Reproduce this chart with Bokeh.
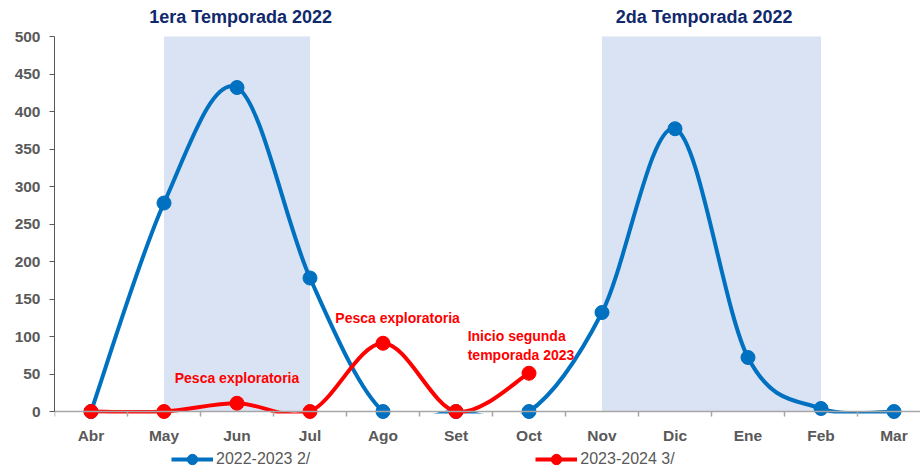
import numpy as np
from bokeh.plotting import figure
from bokeh.models import FixedTicker, Legend, LegendItem, Range1d
from bokeh.core.properties import value
from bokeh.embed import file_html
from bokeh.resources import INLINE

# ---------------- data ----------------
months = ["Abr", "May", "Jun", "Jul", "Ago", "Set", "Oct", "Nov", "Dic", "Ene", "Feb", "Mar"]
blue_vals = [0, 278, 432, 178, 0, 0, 0, 132, 377, 72, 4, 0]      # 2022-2023 2/
red_vals = [0, 0, 11, 0, 91, 0, 51]                                # 2023-2024 3/
series_names = ["2022-2023 2/", "2023-2024 3/"]
y_ticks = [0, 50, 100, 150, 200, 250, 300, 350, 400, 450, 500]
season_start = [1, 7]          # May, Nov (month index)
season_end = [3, 10]           # Jul, Feb
season_top = [500, 500]
season_titles = ["1era Temporada 2022", "2da Temporada 2022"]
notes = ["Pesca exploratoria", "Pesca exploratoria", "Inicio segunda\ntemporada 2023"]

# ---------------- positions / styles ----------------
title_x = [2.05, 8.4]
title_y = 526.5
note_x = [2.0, 4.2]
note_y = [45, 125]
note3_x, note3_y = 5.16, 88
clip_margin = 2.7   # plot-area clipping just below the zero line (data units)

BLUE = "#0070C0"
RED = "#FF0000"
SHADE = "#DAE3F3"
GREY = "#595959"
NAVY = "#10296B"
FONT = "Liberation Sans"

W, H = 920, 471
X0, X1 = -0.5, -0.5 + (W - 54) / 73.0
Y0, Y1 = -(H - 411) / 0.75, 500 + 36 / 0.75

p = figure(width=W, height=H, output_backend="svg", toolbar_location=None,
           x_range=Range1d(X0, X1), y_range=Range1d(Y0, Y1),
           min_border_left=54, min_border_right=0, min_border_top=0, min_border_bottom=0)
p.outline_line_color = None
p.xgrid.visible = False
p.ygrid.visible = False
p.background_fill_color = "white"

# shaded seasons
p.quad(left=season_start, right=season_end, bottom=[0, 0], top=season_top,
       fill_color=SHADE, line_color=None)


def smooth(vals):
    y = np.asarray(vals, dtype=float)
    x = np.arange(len(y), dtype=float)
    n = len(y)
    xp = np.concatenate([[x[0]], x, [x[-1]]])
    yp = np.concatenate([[y[0]], y, [y[-1]]])
    x0, x1, y0, y1 = x[:-1], x[1:], y[:-1], y[1:]
    cx0 = x0 + (xp[2:n + 1] - xp[0:n - 1]) / 6.0
    cy0 = y0 + (yp[2:n + 1] - yp[0:n - 1]) / 6.0
    cx1 = x1 - (xp[3:n + 2] - xp[1:n]) / 6.0
    cy1 = y1 - (yp[3:n + 2] - yp[1:n]) / 6.0
    return dict(x0=x0, y0=y0, x1=x1, y1=y1, cx0=cx0, cy0=cy0, cx1=cx1, cy1=cy1)


bb = smooth(blue_vals)
blue_curve = p.bezier(x0=bb["x0"], y0=bb["y0"], x1=bb["x1"], y1=bb["y1"],
                      cx0=bb["cx0"], cy0=bb["cy0"], cx1=bb["cx1"], cy1=bb["cy1"],
                      line_color=BLUE, line_width=4)
rb = smooth(red_vals)
red_curve = p.bezier(x0=rb["x0"], y0=rb["y0"], x1=rb["x1"], y1=rb["y1"],
                     cx0=rb["cx0"], cy0=rb["cy0"], cx1=rb["cx1"], cy1=rb["cy1"],
                     line_color=RED, line_width=4)

# plot-area clipping of the curves below the zero line (as in the source chart)
p.quad(left=[X0], right=[X1], bottom=[Y0], top=[-clip_margin],
       fill_color="white", line_color=None)

blue_pts = p.scatter(x=list(range(len(blue_vals))), y=blue_vals, size=14,
                     fill_color=BLUE, line_color=BLUE)
red_pts = p.scatter(x=list(range(len(red_vals))), y=red_vals, size=14,
                    fill_color=RED, line_color=RED)

# annotations
p.text(x=note_x, y=note_y, text=notes[:2], text_color=RED, text_font=value(FONT),
       text_font_size="14px", text_font_style="bold", text_align="center",
       text_baseline="middle")
p.text(x=[note3_x], y=[note3_y], text=[notes[2]], text_color=RED, text_font=value(FONT),
       text_font_size="14px", text_font_style="bold", text_align="left",
       text_baseline="middle", text_line_height=1.14)
p.text(x=title_x, y=[title_y, title_y], text=season_titles, text_color=NAVY,
       text_font=value(FONT), text_font_size="18px", text_font_style="bold",
       text_align="center", text_baseline="middle")

# axes
yax = p.yaxis[0]
yax.bounds = (y_ticks[0], y_ticks[-1])
yax.ticker = FixedTicker(ticks=y_ticks)
yax.major_label_text_font = FONT
yax.major_label_text_font_size = "15.5px"
yax.major_label_text_font_style = "bold"
yax.major_label_text_color = GREY
yax.major_tick_out = 5
yax.major_tick_in = 0
yax.minor_tick_line_color = None
yax.axis_line_color = GREY
yax.major_tick_line_color = GREY
yax.major_label_standoff = 9

xax = p.xaxis[0]
xax.fixed_location = 0
xax.bounds = (-0.5, len(months) - 0.5)
xax.ticker = FixedTicker(ticks=list(range(len(months))),
                         minor_ticks=[i - 0.5 for i in range(len(months) + 1)])
xax.major_label_overrides = {i: m for i, m in enumerate(months)}
xax.major_label_text_font = FONT
xax.major_label_text_font_size = "15.5px"
xax.major_label_text_font_style = "bold"
xax.major_label_text_color = GREY
xax.major_tick_out = 0
xax.major_tick_in = 0
xax.minor_tick_out = 5
xax.minor_tick_in = 0
xax.minor_tick_line_color = "#A6A6A6"
xax.minor_tick_line_width = 1.5
xax.axis_line_color = "#A6A6A6"
xax.axis_line_width = 1.5
xax.major_label_standoff = 10

# legend
legend = Legend(items=[LegendItem(label=series_names[0], renderers=[blue_curve, blue_pts]),
                       LegendItem(label=series_names[1], renderers=[red_curve, red_pts])],
                orientation="horizontal", location=(117, -0.5), spacing=225,
                glyph_width=42, glyph_height=26, label_height=26, label_standoff=3,
                padding=0, margin=0, border_line_color=None, background_fill_alpha=0,
                label_text_font=FONT, label_text_font_size="16px", label_text_color=GREY)
p.add_layout(legend)

open("out.html", "w").write(file_html(p, INLINE))
